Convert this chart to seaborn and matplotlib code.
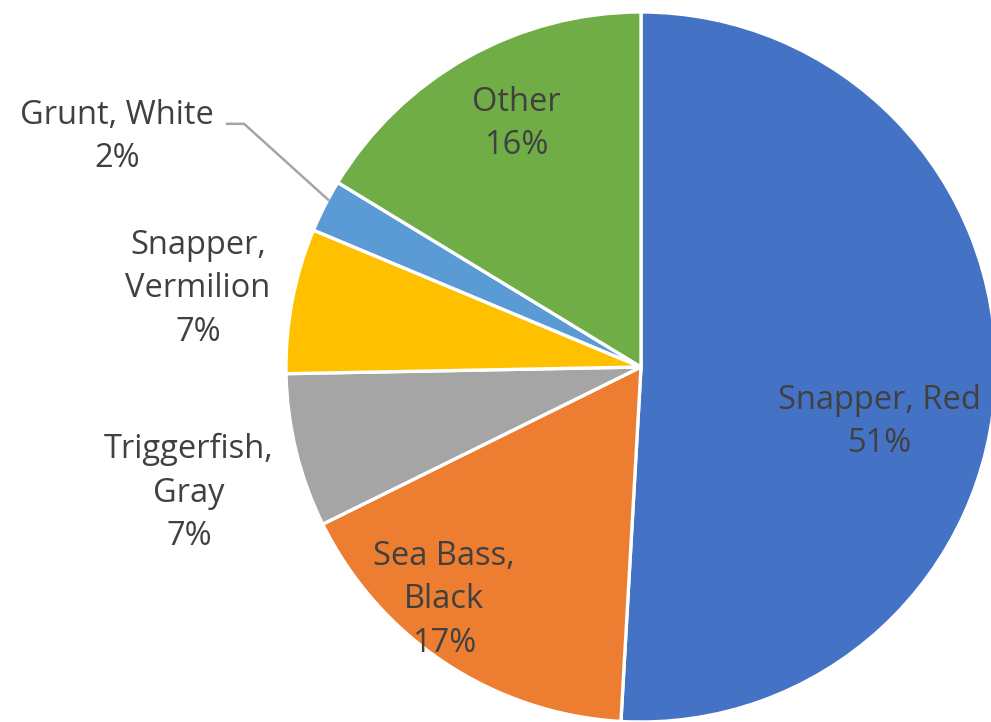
import matplotlib
matplotlib.use('Agg')
import matplotlib.pyplot as plt
import seaborn as sns

# Species share of landings, clockwise from 12 o'clock
species = ['Snapper, Red', 'Sea Bass,\nBlack', 'Triggerfish,\nGray',
           'Snapper,\nVermilion', 'Grunt, White', 'Other']
shares = [50.9, 16.8, 7.0, 6.6, 2.4, 16.3]
pct_labels = ['51%', '17%', '7%', '7%', '2%', '16%']

colors = ['#4472C4', '#ED7D31', '#A5A5A5', '#FFC000', '#5B9BD5', '#70AD47']

# label centres in axis units (pie radius = 1)
label_pos = [(0.673, -0.155), (-0.555, -0.656), (-1.273, -0.355),
             (-1.248, 0.220), (-1.475, 0.648), (-0.352, 0.685)]

sns.set_theme(style='white')
plt.rcParams['font.family'] = ['Open Sans', 'DejaVu Sans']

fig = plt.figure(figsize=(9.91, 7.22), dpi=100)
# pie centre at (641, 367) px, radius 355 px
ax = fig.add_axes([286 / 991, 0 / 722, 710 / 991, 710 / 722])
ax.pie(shares, colors=colors, startangle=90, counterclock=False, radius=1,
       wedgeprops=dict(edgecolor='white', linewidth=2.4))
ax.set_xlim(-1, 1)
ax.set_ylim(-1, 1)
ax.set_aspect('auto')
ax.axis('off')

for name, pct, (x, y) in zip(species, pct_labels, label_pos):
    ax.text(x, y, f'{name}\n{pct}', ha='center', va='center', fontsize=23.5,
            color='#404040', linespacing=1.42, clip_on=False)

# leader line for the small Grunt slice
ax.plot([-1.167, -1.118, -0.880], [0.685, 0.685, 0.470], color='#A5A5A5',
        lw=1.8, clip_on=False, solid_joinstyle='miter')

fig.savefig('out.png', dpi=100)
